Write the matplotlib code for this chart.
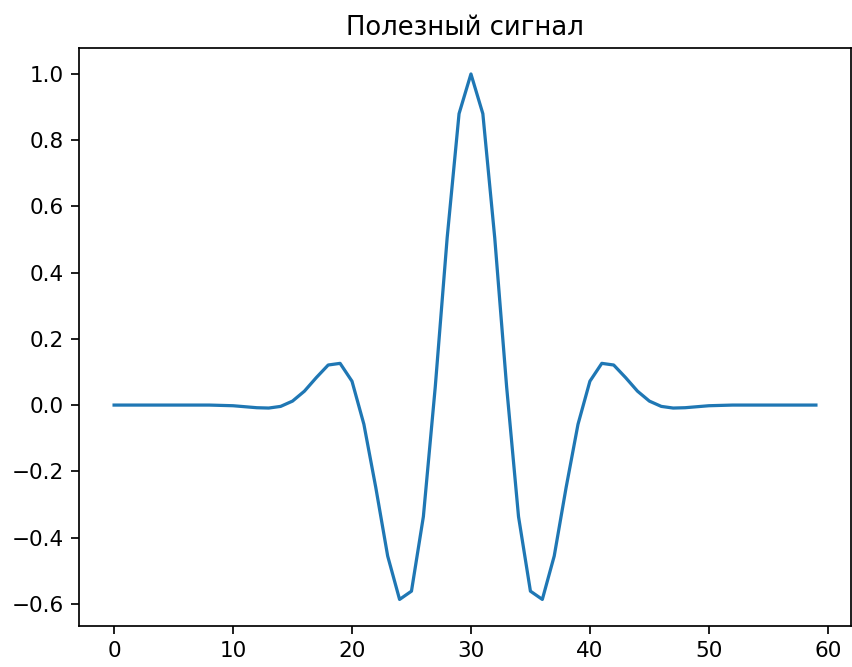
import numpy as np
import matplotlib
matplotlib.use("Agg")
import matplotlib.pyplot as plt

# Wavelet samples, indexed by distance from the centre sample (n = 30)
center = 30
n_samples = 60
half_profile = [
    1.000, 0.880, 0.505, 0.055, -0.337, -0.562, -0.587, -0.456,
    -0.249, -0.058, 0.072, 0.126, 0.121, 0.083, 0.042, 0.012,
    -0.004, -0.009, -0.008, -0.005, -0.002, -0.001, 0.0, 0.0,
    0.0, 0.0, 0.0, 0.0, 0.0, 0.0, 0.0,
]

sample_index = list(range(n_samples))
signal = [half_profile[abs(i - center)] for i in sample_index]

dpi = 155
fig = plt.figure(figsize=(852 / dpi, 667 / dpi), dpi=dpi)
ax = fig.add_axes([79 / 852, 41.3 / 667, 772 / 852, 578 / 667])
ax.plot(sample_index, signal, color="#1f77b4", linewidth=1.5)
ax.set_title("Полезный сигнал")

fig.savefig("out.png", dpi=dpi)
